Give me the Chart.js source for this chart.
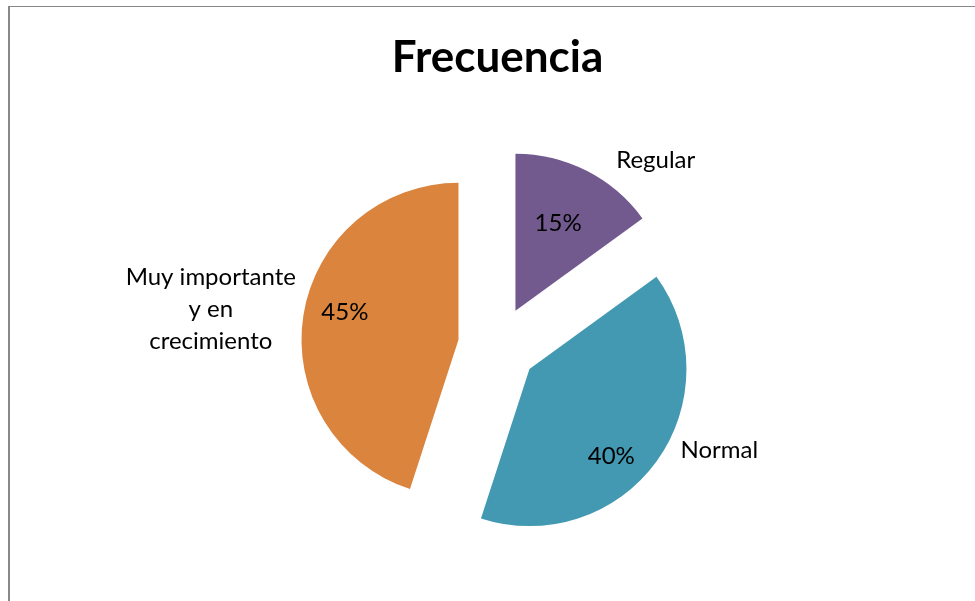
<!DOCTYPE html>
<html>
<head>
<meta charset="utf-8">
<script src="https://cdn.jsdelivr.net/npm/chart.js@4.4.1/dist/chart.umd.min.js"></script>
<style>
    html, body {
        margin: 0;
        padding: 0;
        background: #ffffff;
        overflow: hidden;
    }
    #frame {
        position: absolute;
        left: 8px;
        top: 6px;
        width: 1000px;
        height: 700px;
        border-left: 2px solid #888888;
        border-top: 1px solid #888888;
    }
    #frecuencia {
        position: absolute;
        left: 0;
        top: 0;
    }
</style>
</head>
<body>
<div id="frame"></div>
<canvas id="frecuencia" width="975" height="601"></canvas>

<script>

/* =======================
   DATOS
======================= */

const categorias = [
    "Regular",
    "Normal",
    ["Muy importante", "y en", "crecimiento"]
];

const valores = [15, 40, 45];

const colores = ["#725a8e", "#4399b1", "#db843d"];

/* =======================
   PLUGINS
======================= */

// separa cada porción del centro (pie "explotado")
const EXPLODE = 39.5;

const explodePlugin = {
    id: "explode",
    afterDatasetUpdate(chart) {

        const meta = chart.getDatasetMeta(0);

        meta.data.forEach(arc => {
            const mid = (arc.startAngle + arc.endAngle) / 2;
            arc.x += Math.cos(mid) * EXPLODE;
            arc.y += Math.sin(mid) * EXPLODE;
        });
    }
};

// posición de etiquetas: ángulo (grados, desde arriba, horario) y fracción del radio
const posPorcentaje = [[26, 0.62], [136.7, 0.76], [283.8, 0.745]];
const posCategoria = [[43, 1.31], [113.1, 1.315], [277.1, 1.59]];

const labelsPlugin = {
    id: "sliceLabels",
    afterDatasetsDraw(chart) {

        const ctx = chart.ctx;
        const meta = chart.getDatasetMeta(0);
        const total = valores.reduce((a, b) => a + b, 0);

        ctx.save();
        ctx.fillStyle = "#000000";
        ctx.textAlign = "center";
        ctx.textBaseline = "middle";
        ctx.font = "24px Lato";

        meta.data.forEach((arc, i) => {

            const r = arc.outerRadius;

            const pa = (posPorcentaje[i][0] - 90) * Math.PI / 180;
            const pr = posPorcentaje[i][1] * r;

            const pct = Math.round(valores[i] / total * 100) + "%";

            ctx.fillText(
                pct,
                arc.x + Math.cos(pa) * pr,
                arc.y + Math.sin(pa) * pr
            );

            const ca = (posCategoria[i][0] - 90) * Math.PI / 180;
            const cr = posCategoria[i][1] * r;

            const cx = arc.x + Math.cos(ca) * cr;
            const cy = arc.y + Math.sin(ca) * cr;

            const lineas = [].concat(categorias[i]);
            const lh = 32;
            const y0 = cy - (lineas.length - 1) * lh / 2;

            lineas.forEach((l, j) => {
                ctx.fillText(l, cx, y0 + j * lh);
            });
        });

        ctx.restore();
    }
};

/* =======================
   GRÁFICO
======================= */

function loadFrecuencia() {

    new Chart(
        document.getElementById("frecuencia"),
        {
            type: "pie",
            data: {
                labels: categorias,
                datasets: [{
                    data: valores,
                    backgroundColor: colores,
                    borderWidth: 0
                }]
            },
            options: {
                responsive: false,
                animation: false,
                events: [],
                radius: 157,
                layout: {
                    padding: { left: 20, right: 0, top: 0, bottom: 0 }
                },
                plugins: {
                    legend: { display: false },
                    tooltip: { enabled: false },
                    title: {
                        display: true,
                        text: "Frecuencia",
                        color: "#000000",
                        font: { family: "Lato", size: 44, weight: "bold", lineHeight: 1.2 },
                        padding: { top: 31, bottom: 7 }
                    }
                }
            },
            plugins: [explodePlugin, labelsPlugin]
        }
    );
}

document.addEventListener("DOMContentLoaded", () => {

    loadFrecuencia();

});

</script>
</body>
</html>
